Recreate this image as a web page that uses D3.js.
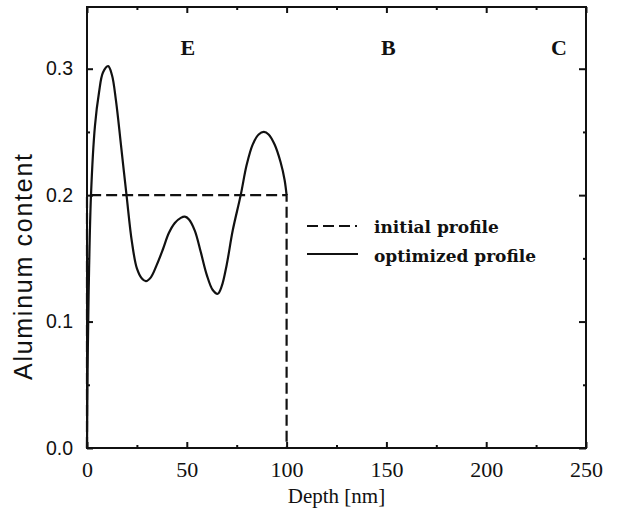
<!DOCTYPE html>
<html>
<head>
<meta charset="utf-8">
<script src="https://cdn.jsdelivr.net/npm/d3@7"></script>
<style>
  html, body { margin: 0; padding: 0; background: #fff; }
  svg { display: block; }
</style>
</head>
<body>
<svg id="chart" width="618" height="513"></svg>
<script>
// ---- data ----
const optDepth = [0, 0.3, 0.8, 2, 4, 6, 8, 10.6, 12.5, 14.5, 17, 19.8, 22.5, 25, 27.5, 29.5, 32, 35, 38, 41, 44, 47, 49, 51, 54, 57, 60, 63, 65.5, 67.5, 70, 73, 77, 80, 83, 86, 88.6, 91, 94, 97, 99, 100];
const optAl    = [0, 0.06, 0.12, 0.2, 0.255, 0.281, 0.297, 0.302, 0.295, 0.275, 0.24, 0.2, 0.163, 0.142, 0.134, 0.132, 0.135, 0.145, 0.157, 0.17, 0.178, 0.182, 0.183, 0.181, 0.172, 0.155, 0.137, 0.125, 0.122, 0.128, 0.145, 0.172, 0.2, 0.224, 0.24, 0.248, 0.25, 0.248, 0.24, 0.226, 0.212, 0.2];
const initDepth = [0, 0, 100, 100];
const initAl    = [0, 0.2, 0.2, 0];
const xTicks = [0, 50, 100, 150, 200, 250];
const xMinor = [25, 75, 125, 175, 225];
const yTicks = [0.0, 0.1, 0.2, 0.3];
const yMinor = [0.05, 0.15, 0.25];
const regionLabels = ["E", "B", "C"];
const regionPos = [50.5, 151, 236.5];
const legendLabels = ["initial profile", "optimized profile"];

// ---- layout ----
const svg = d3.select("#chart");
const L = 87, R = 586, T = 7, B = 448;
const x = d3.scaleLinear().domain([0, 250]).range([L, R]);
const y = d3.scaleLinear().domain([0, 0.35]).range([B, T - 1.5]);

const serif = "'Liberation Serif', 'Times New Roman', serif";
const sans = "'Liberation Sans', Arial, sans-serif";

// frame
svg.append("rect").attr("x", L).attr("y", T).attr("width", R - L).attr("height", B - T)
  .attr("fill", "none").attr("stroke", "#111").attr("stroke-width", 2);

// axes with inward ticks
const fmtY = d3.format(".1f");
const gB = svg.append("g").attr("transform", `translate(0,${B})`)
  .call(d3.axisBottom(x).tickValues(xTicks).tickSize(-6).tickPadding(13).tickFormat(d3.format("d")));
const gBm = svg.append("g").attr("transform", `translate(0,${B})`)
  .call(d3.axisBottom(x).tickValues(xMinor).tickSize(-3).tickFormat(""));
const gT = svg.append("g").attr("transform", `translate(0,${T})`)
  .call(d3.axisTop(x).tickValues(xTicks).tickSize(-6).tickFormat(""));
const gTm = svg.append("g").attr("transform", `translate(0,${T})`)
  .call(d3.axisTop(x).tickValues(xMinor).tickSize(-3).tickFormat(""));
const gL = svg.append("g").attr("transform", `translate(${L},0)`)
  .call(d3.axisLeft(y).tickValues(yTicks).tickSize(-6).tickPadding(14).tickFormat(fmtY));
const gLm = svg.append("g").attr("transform", `translate(${L},0)`)
  .call(d3.axisLeft(y).tickValues(yMinor).tickSize(-3).tickFormat(""));
const gR = svg.append("g").attr("transform", `translate(${R},0)`)
  .call(d3.axisRight(y).tickValues(yTicks).tickSize(-7).tickFormat(""));
const gRm = svg.append("g").attr("transform", `translate(${R},0)`)
  .call(d3.axisRight(y).tickValues(yMinor).tickSize(-3).tickFormat(""));

[gB, gBm, gT, gTm, gL, gLm, gR, gRm].forEach(g => {
  g.select(".domain").remove();
  g.selectAll(".tick line").attr("stroke", "#111").attr("stroke-width", 2);
});
gB.selectAll(".tick text").attr("font-family", serif).attr("font-size", 22).attr("fill", "#111");
gL.selectAll(".tick text").attr("font-family", sans).attr("font-size", 19.5).attr("fill", "#111");

// data lines
const initData = initDepth.map((d, i) => [d, initAl[i]]);
const optData = optDepth.map((d, i) => [d, optAl[i]]);

svg.append("path").datum(initData)
  .attr("d", d3.line().x(d => x(d[0])).y(d => y(d[1])))
  .attr("fill", "none").attr("stroke", "#111").attr("stroke-width", 2.2)
  .attr("stroke-dasharray", "11,5");

svg.append("path").datum(optData)
  .attr("d", d3.line().x(d => x(d[0])).y(d => y(d[1])).curve(d3.curveCatmullRom.alpha(0.5)))
  .attr("fill", "none").attr("stroke", "#111").attr("stroke-width", 2.2);

// region labels
svg.selectAll(".region").data(regionLabels).enter().append("text")
  .attr("x", (d, i) => x(regionPos[i])).attr("y", 55)
  .attr("text-anchor", "middle").attr("font-family", serif).attr("font-weight", "bold")
  .attr("font-size", 22).attr("fill", "#111").text(d => d);

// legend
const lg = svg.append("g");
lg.append("line").attr("x1", 307).attr("x2", 357).attr("y1", 226).attr("y2", 226)
  .attr("stroke", "#111").attr("stroke-width", 2.2).attr("stroke-dasharray", "11,5");
lg.append("line").attr("x1", 307).attr("x2", 358).attr("y1", 254).attr("y2", 254)
  .attr("stroke", "#111").attr("stroke-width", 2.2);
lg.selectAll("text").data(legendLabels).enter().append("text")
  .attr("x", 374).attr("y", (d, i) => 233 + i * 29)
  .attr("font-family", "'DejaVu Serif', serif").attr("font-weight", "bold")
  .attr("font-size", 17).attr("fill", "#111").text(d => d);

// axis titles
svg.append("text").attr("x", (L + R) / 2).attr("y", 503)
  .attr("text-anchor", "middle").attr("font-family", serif).attr("font-size", 21)
  .attr("fill", "#111").text("Depth [nm]");
svg.append("text").attr("transform", `translate(32,267) rotate(-90)`)
  .attr("text-anchor", "middle").attr("font-family", sans).attr("font-size", 25)
  .attr("textLength", 226).attr("lengthAdjust", "spacing")
  .attr("fill", "#111").text("Aluminum content");
</script>
</body>
</html>
